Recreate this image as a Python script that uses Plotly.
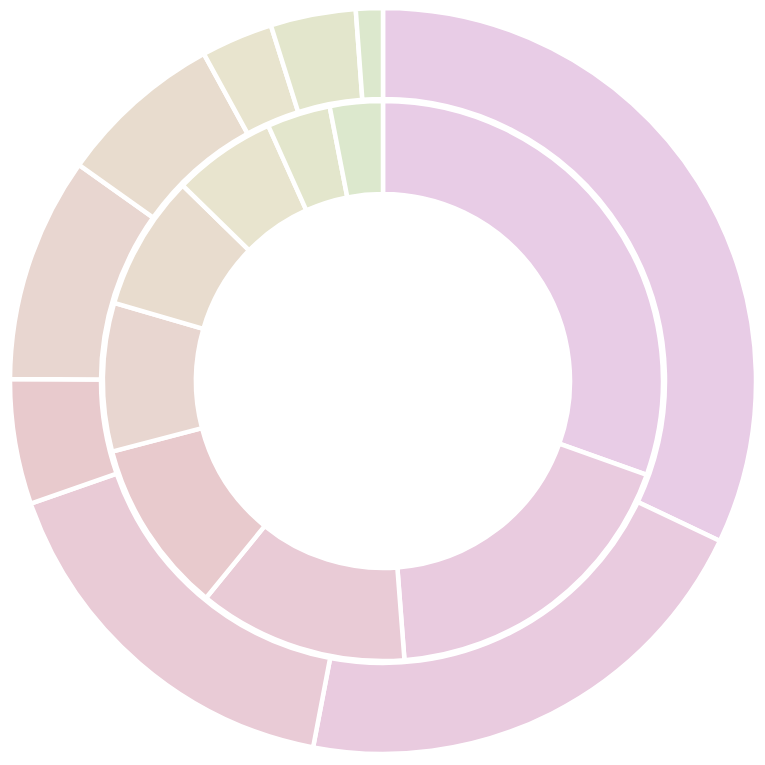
import plotly.graph_objects as go

categories = ["A", "B", "C", "D", "E", "F", "G", "H", "I"]
outer_values = [115.4, 75.4, 60.0, 19.5, 35.1, 25.9, 11.2, 13.3, 4.2]
inner_values = [109.6, 66.0, 43.6, 36.2, 30.8, 28.1, 21.5, 13.2, 11.0]
colors = ["#E8CCE6", "#E9CBDF", "#E9CBD6", "#E8CACD", "#E8D6D0",
          "#E8DCCE", "#E8E4CE", "#E3E6CC", "#DCE8CD"]

fig = go.Figure()
fig.add_trace(go.Pie(
    labels=categories, values=outer_values, sort=False, direction="clockwise",
    rotation=0, hole=0.756, textinfo="none", hoverinfo="label+value",
    marker=dict(colors=colors, line=dict(color="white", width=4.5)),
    domain=dict(x=[0, 1], y=[0, 1]), showlegend=False,
))
fig.add_trace(go.Pie(
    labels=categories, values=inner_values, sort=False, direction="clockwise",
    rotation=0, hole=0.668, textinfo="none", hoverinfo="label+value",
    marker=dict(colors=colors, line=dict(color="white", width=4.5)),
    domain=dict(x=[0.1247, 0.8753], y=[0.1247, 0.8753]), showlegend=False,
))
fig.update_layout(
    width=757, height=757,
    margin=dict(l=2, r=9, t=0, b=11, pad=0),
    paper_bgcolor="white", plot_bgcolor="white",
)
fig.write_html("out.html")
